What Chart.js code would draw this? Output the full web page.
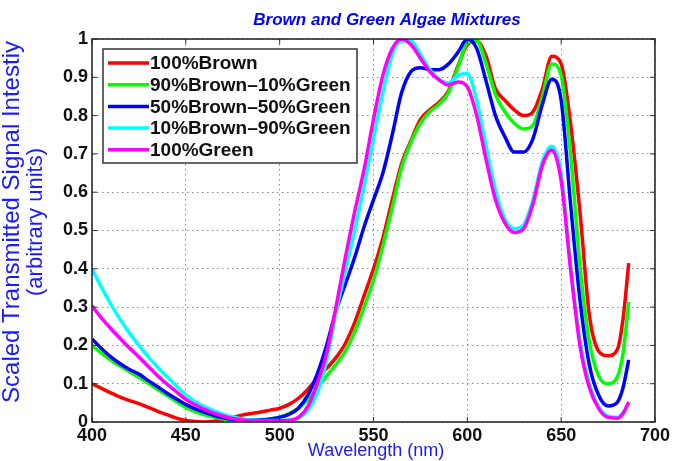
<!DOCTYPE html>
<html><head><meta charset="utf-8">
<script src="https://cdn.jsdelivr.net/npm/chart.js@4/dist/chart.umd.min.js"></script>
<style>html,body{margin:0;padding:0;background:#fff}#wrap{width:673px;height:461px;position:relative}</style>
</head><body><div id="wrap"><canvas id="c"></canvas></div>
<script>
const chartTitle = 'Brown and Green Algae Mixtures';
const xTitle = 'Wavelength (nm)';
const yTitle = ['Scaled Transmitted Signal Intestiy', '(arbitrary units)'];
const seriesNames = ['100%Brown', '90%Brown\u201310%Green', '50%Brown\u201350%Green', '10%Brown\u201390%Green', '100%Green'];
const seriesColors = ['#ff0000', '#00ff00', '#0000ff', '#00ffff', '#ff00ff'];
const xTicks = [400, 450, 500, 550, 600, 650, 700];
const yTicks = [0, 0.1, 0.2, 0.3, 0.4, 0.5, 0.6, 0.7, 0.8, 0.9, 1];

const wavelengths = [400,405,410,415,420,425,430,435,440,445,450,455,460,465,470,475,480,485,490,495,
  500,505,510,515,520,525,530,535,540,545,550,555,560,565,570,575,580,585,590,595,
  600,605,610,615,620,625,630,635,640,645,650,655,660,665,670,675,680,683,686];

const brown100 = [0.100,0.088,0.076,0.065,0.056,0.048,0.038,0.028,0.019,0.010,0.004,0.001,0.000,0.002,0.006,0.012,0.018,0.022,0.026,0.031,
  0.036,0.046,0.062,0.085,0.115,0.140,0.168,0.205,0.260,0.330,0.400,0.480,0.580,0.675,0.735,0.790,0.815,0.835,0.865,0.930,
  0.985,0.995,0.955,0.870,0.840,0.815,0.800,0.810,0.870,0.955,0.935,0.780,0.550,0.280,0.185,0.173,0.190,0.270,0.415];

const brown90green10 = [0.200,0.180,0.162,0.146,0.131,0.117,0.101,0.085,0.069,0.053,0.038,0.027,0.019,0.013,0.008,0.005,0.004,0.004,0.005,0.008,
  0.013,0.022,0.036,0.058,0.088,0.120,0.150,0.185,0.235,0.300,0.370,0.460,0.560,0.665,0.730,0.780,0.810,0.830,0.860,0.925,
  0.990,0.995,0.935,0.855,0.810,0.780,0.765,0.775,0.850,0.935,0.905,0.700,0.410,0.210,0.120,0.100,0.118,0.180,0.313];

const brown50green50 = [0.217,0.192,0.170,0.152,0.137,0.125,0.108,0.092,0.075,0.060,0.046,0.034,0.025,0.017,0.011,0.007,0.005,0.005,0.006,0.008,
  0.012,0.020,0.036,0.070,0.125,0.200,0.290,0.360,0.430,0.510,0.580,0.650,0.750,0.860,0.915,0.925,0.920,0.920,0.935,0.965,
  1.000,0.975,0.890,0.800,0.745,0.705,0.705,0.740,0.830,0.895,0.840,0.570,0.320,0.150,0.070,0.042,0.052,0.090,0.162];

const brown10green90 = [0.400,0.352,0.308,0.268,0.232,0.200,0.170,0.143,0.118,0.094,0.071,0.053,0.040,0.029,0.020,0.013,0.008,0.005,0.004,0.004,
  0.004,0.005,0.010,0.030,0.075,0.160,0.285,0.395,0.500,0.615,0.740,0.860,0.960,0.995,0.995,0.960,0.920,0.895,0.885,0.905,
  0.910,0.840,0.720,0.605,0.530,0.505,0.515,0.580,0.680,0.720,0.650,0.410,0.215,0.100,0.040,0.015,0.012,0.025,0.050];

const green100 = [0.303,0.272,0.244,0.218,0.193,0.170,0.145,0.121,0.099,0.079,0.059,0.045,0.033,0.023,0.015,0.009,0.005,0.003,0.003,0.003,
  0.003,0.004,0.012,0.040,0.100,0.180,0.300,0.430,0.550,0.660,0.790,0.905,0.975,1.000,0.985,0.950,0.915,0.893,0.880,0.888,
  0.875,0.800,0.685,0.580,0.520,0.495,0.505,0.570,0.670,0.710,0.630,0.400,0.200,0.090,0.035,0.012,0.010,0.022,0.052];

const seriesValues = [brown100, brown90green10, brown50green50, brown10green90, green100];

const FONT = '"Liberation Sans", Arial, Helvetica, sans-serif';

const decor = {
  id: 'decor',
  afterDatasetsDraw(chart) {
    const {ctx, chartArea: a, scales: {x, y}} = chart;
    ctx.save();
    ctx.strokeStyle = '#333'; ctx.lineWidth = 1;
    ctx.beginPath();
    xTicks.forEach(v => { const p = x.getPixelForValue(v); ctx.moveTo(p, a.bottom); ctx.lineTo(p, a.bottom - 5); ctx.moveTo(p, a.top); ctx.lineTo(p, a.top + 5); });
    yTicks.forEach(v => { const p = y.getPixelForValue(v); ctx.moveTo(a.left, p); ctx.lineTo(a.left + 5, p); ctx.moveTo(a.right, p); ctx.lineTo(a.right - 5, p); });
    ctx.stroke();
    ctx.strokeStyle = '#2a2a2a'; ctx.lineWidth = 1.6;
    ctx.strokeRect(a.left, a.top, a.right - a.left, a.bottom - a.top);
    const lx = a.left + 11, ly = a.top + 10, lw = 254, lh = 114;
    ctx.fillStyle = '#fff'; ctx.fillRect(lx, ly, lw, lh);
    ctx.strokeStyle = '#333'; ctx.lineWidth = 1.5; ctx.strokeRect(lx, ly, lw, lh);
    ctx.font = 'bold 19px ' + FONT; ctx.textBaseline = 'middle'; ctx.textAlign = 'left';
    chart.data.datasets.forEach((ds, i) => {
      const ry = ly + 14 + i * 21.7;
      ctx.strokeStyle = ds.borderColor; ctx.lineWidth = 3.5;
      ctx.beginPath(); ctx.moveTo(lx + 5, ry); ctx.lineTo(lx + 46, ry); ctx.stroke();
      ctx.fillStyle = '#111'; ctx.fillText(ds.label, lx + 47, ry + 1);
    });
    ctx.restore();
  },
  afterDraw(chart) {
    const {ctx} = chart;
    ctx.save();
    ctx.fillStyle = '#0000ff'; ctx.textAlign = 'center'; ctx.textBaseline = 'middle';
    ctx.font = 'bold italic 17px ' + FONT;
    ctx.fillText(chartTitle, 387, 20);
    ctx.fillStyle = '#1a1aff';
    ctx.font = '18px ' + FONT;
    ctx.fillText(xTitle, 376, 451);
    ctx.translate(0, 222); ctx.rotate(-Math.PI / 2);
    ctx.font = '24px ' + FONT;
    ctx.fillText(yTitle[0], 0, 12);
    ctx.font = '22px ' + FONT;
    ctx.fillText(yTitle[1], 0, 36);
    ctx.restore();
  }
};

const datasets = seriesNames.map((name, i) => ({
  label: name,
  data: wavelengths.map((w, j) => ({x: w, y: seriesValues[i][j]})),
  borderColor: seriesColors[i],
  backgroundColor: seriesColors[i],
  borderWidth: 3.5,
  pointRadius: 0,
  fill: false,
  cubicInterpolationMode: 'monotone',
  order: seriesNames.length - i
}));

new Chart(document.getElementById('c'), {
  type: 'line',
  data: {datasets},
  options: {
    responsive: true,
    maintainAspectRatio: false,
    animation: false,
    devicePixelRatio: 1,
    layout: {padding: {top: 39, right: 16, bottom: 0, left: 0}},
    plugins: {legend: {display: false}, title: {display: false}, tooltip: {enabled: false}},
    scales: {
      x: {
        type: 'linear', min: 400, max: 700,
        afterBuildTicks: s => { s.ticks = xTicks.map(v => ({value: v})); },
        afterFit: s => { s.height = 39; },
        ticks: {font: {family: FONT, size: 18, weight: 'bold'}, color: '#111', padding: 3, maxRotation: 0},
        grid: {color: '#8a8a8a', lineWidth: 1, drawTicks: false},
        border: {display: false, dash: [1.5, 3.5]}
      },
      y: {
        type: 'linear', min: 0, max: 1,
        afterBuildTicks: s => { s.ticks = yTicks.map(v => ({value: v})); },
        afterFit: s => { s.width = 92; },
        ticks: {font: {family: FONT, size: 18, weight: 'bold'}, color: '#111', padding: 4,
          callback: v => String(Math.round(v * 10) / 10)},
        grid: {color: '#8a8a8a', lineWidth: 1, drawTicks: false},
        border: {display: false, dash: [1.5, 3.5]}
      }
    }
  },
  plugins: [decor]
});
</script>
</body></html>
